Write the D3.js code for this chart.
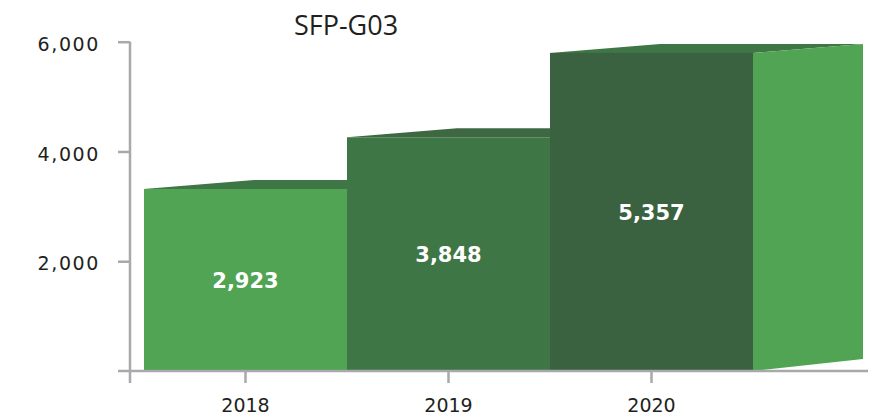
<!DOCTYPE html>
<html>
<head>
<meta charset="utf-8">
<script src="https://cdn.jsdelivr.net/npm/d3@7"></script>
<style>
  body { margin: 0; background: #fff; }
  svg { display: block; }
</style>
</head>
<body>
<script>
// chart data
var years = ["2018", "2019", "2020"];
var values = [2923, 3848, 5357];
var yTicks = [0, 2000, 4000, 6000];
var title = "SFP-G03";

var width = 878, height = 420;
var frontColors = ["#51a453", "#3f7645", "#3b6240"];
var topColors = ["#3f7645", "#3d6842", "#3f7645"];
var sideColor = "#51a453";
var axisColor = "#a7a9ac";
var depthX = 110, depthTop = -9, depthBottom = -12; // fake 3d offset

var svg = d3.select("body").append("svg")
  .attr("width", width)
  .attr("height", height);

var x = d3.scaleBand().domain(years).range([144, 753]).padding(0);
var y = d3.scaleLinear().domain([0, 6000]).range([371, 41.7]);
// bars in the original sit a bit higher than the axis (3d look)
var yBar = d3.scaleLinear().domain([0, 6000]).range([352.3, 17]);

// bars: top face, side face, front face
var bars = svg.append("g").attr("id", "bars");
values.forEach(function(v, i) {
  var x0 = x(years[i]), x1 = x0 + x.bandwidth();
  var top = yBar(v), base = y(0);
  var g = bars.append("g");
  g.append("polygon")
    .attr("points", [[x0, top], [x0 + depthX, top + depthTop], [x1 + depthX, top + depthTop], [x1, top]].join(" "))
    .attr("fill", topColors[i]);
  g.append("polygon")
    .attr("points", [[x1, top], [x1 + depthX, top + depthTop], [x1 + depthX, base + depthBottom], [x1, base]].join(" "))
    .attr("fill", sideColor);
  g.append("rect")
    .attr("x", x0).attr("y", top)
    .attr("width", x.bandwidth()).attr("height", base - top)
    .attr("fill", frontColors[i]);
  g.append("text")
    .attr("x", x0 + x.bandwidth() / 2)
    .attr("y", (top + base) / 2)
    .attr("dy", "0.36em")
    .attr("text-anchor", "middle")
    .attr("fill", "#fff")
    .style("font-family", "DejaVu Sans")
    .style("font-weight", "bold")
    .style("font-size", "21px")
    .text(d3.format(",")(v));
});

// y axis
var yAxis = svg.append("g")
  .attr("transform", "translate(130,0)")
  .call(d3.axisLeft(y).tickValues(yTicks.filter(function(t) { return t > 0; }))
    .tickFormat(d3.format(",")).tickSize(12).tickPadding(18));
yAxis.select(".domain").remove();
yAxis.selectAll("line").attr("stroke", axisColor).attr("stroke-width", 2.5);
yAxis.selectAll("text")
  .attr("dy", "0.45em")
  .attr("fill", "#231f20")
  .style("font-family", "DejaVu Sans")
  .style("font-size", "19px")
  .style("letter-spacing", "1.6px");
svg.append("line")
  .attr("x1", 130).attr("x2", 130)
  .attr("y1", y(6000)).attr("y2", y(0) + 12)
  .attr("stroke", axisColor).attr("stroke-width", 2.5);

// x axis
var xAxis = svg.append("g")
  .attr("transform", "translate(0," + y(0) + ")")
  .call(d3.axisBottom(x).tickSize(12).tickPadding(16));
xAxis.select(".domain").remove();
xAxis.selectAll("line").attr("stroke", axisColor).attr("stroke-width", 2.5);
xAxis.selectAll("text")
  .attr("fill", "#231f20")
  .style("font-family", "DejaVu Sans")
  .style("font-size", "19px");
svg.append("line")
  .attr("x1", 118).attr("x2", 868)
  .attr("y1", y(0)).attr("y2", y(0))
  .attr("stroke", axisColor).attr("stroke-width", 2.5);

// title
svg.append("text")
  .attr("x", 346).attr("y", 35)
  .attr("text-anchor", "middle")
  .attr("fill", "#231f20")
  .style("font-family", "Open Sans")
  .style("font-size", "27px")
  .text(title);
</script>
</body>
</html>
